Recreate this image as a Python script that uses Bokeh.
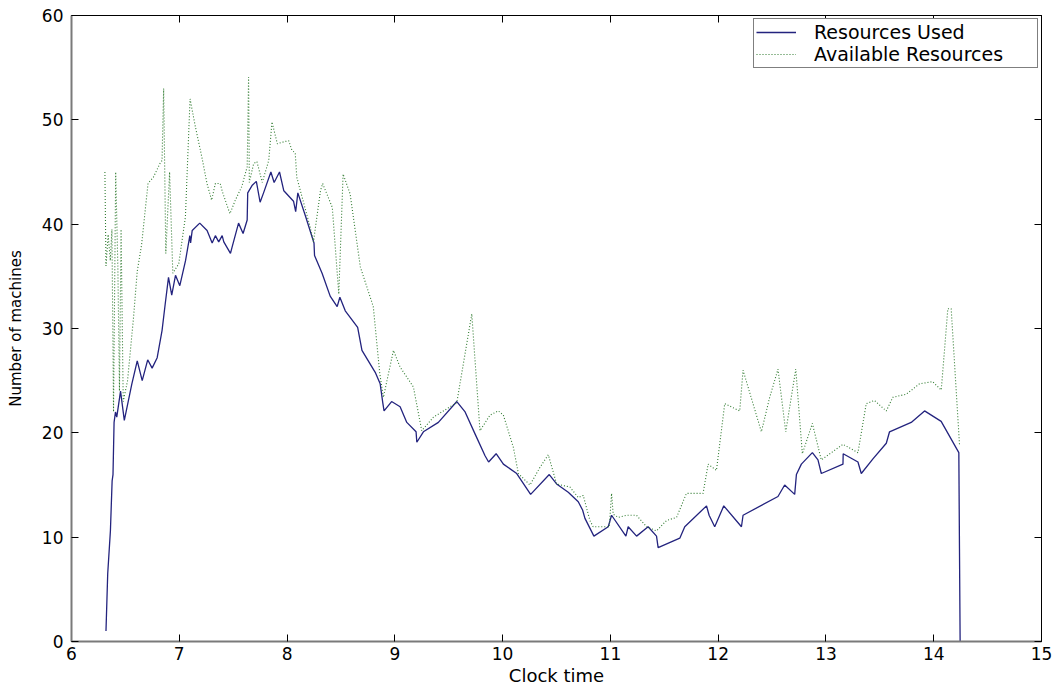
from bokeh.plotting import figure
from bokeh.models import LinearAxis, Range1d, FixedTicker, Legend, LegendItem, CustomJSTickFormatter
from bokeh.embed import file_html
from bokeh.resources import INLINE

# ---- data ----
used_time = [6.320, 6.336, 6.361, 6.377, 6.385, 6.395, 6.408, 6.42, 6.455, 6.49,
             6.56, 6.61, 6.656, 6.707, 6.748, 6.795, 6.84, 6.87, 6.90, 6.93,
             6.965, 7.005, 7.058, 7.098, 7.105, 7.12, 7.19, 7.258, 7.305, 7.335,
             7.366, 7.398, 7.413, 7.475, 7.49, 7.55, 7.592, 7.63, 7.635, 7.675,
             7.715, 7.75, 7.782, 7.85, 7.88, 7.93, 7.97, 8.06, 8.08, 8.10,
             8.17, 8.25, 8.255, 8.325, 8.40, 8.465, 8.49, 8.54, 8.655, 8.695,
             8.818, 8.864, 8.888, 8.90, 8.97, 9.049, 9.111, 9.197, 9.204, 9.265,
             9.404, 9.575, 9.652, 9.744, 9.837, 9.87, 9.94, 10.007, 10.131, 10.26,
             10.433, 10.501, 10.609, 10.702, 10.742, 10.764, 10.847, 10.98, 11.011, 11.144,
             11.165, 11.243, 11.35, 11.428, 11.443, 11.644, 11.69, 11.892, 11.916, 11.968,
             12.052, 12.216, 12.231, 12.555, 12.617, 12.71, 12.726, 12.772, 12.874, 12.926,
             12.957, 13.158, 13.16, 13.297, 13.328, 13.436, 13.56, 13.59, 13.791, 13.915,
             14.069, 14.233, 14.239, 14.245]
used = [1.0, 6.5, 10.6, 15.4, 16.0, 21.0, 22.0, 21.5, 24.0, 21.2,
        24.7, 26.9, 25.0, 27.0, 26.2, 27.2, 29.8, 32.4, 34.9, 33.2,
        35.1, 34.1, 36.5, 38.9, 38.2, 39.4, 40.1, 39.4, 38.2, 38.9,
        38.3, 38.9, 38.3, 37.2, 37.8, 40.1, 39.1, 40.4, 43.0, 43.7,
        44.1, 42.1, 43.0, 45.0, 44.0, 45.0, 43.2, 42.2, 41.2, 43.0,
        40.8, 38.2, 37.0, 35.3, 33.1, 32.1, 33.0, 31.7, 30.1, 27.9,
        25.8, 24.7, 22.9, 22.1, 23.0, 22.5, 21.0, 20.1, 19.1, 20.1,
        21.0, 23.0, 22.0, 19.9, 17.8, 17.2, 18.0, 17.0, 16.1, 14.1,
        16.0, 15.1, 14.3, 13.4, 12.6, 11.8, 10.1, 11.0, 12.1, 10.1,
        11.0, 10.1, 11.0, 10.1, 9.0, 9.9, 11.0, 13.0, 12.1, 11.0,
        13.0, 11.0, 12.1, 13.9, 15.0, 14.1, 16.0, 17.0, 18.1, 17.4,
        16.1, 17.0, 18.0, 17.2, 16.1, 17.5, 19.0, 20.1, 21.0, 22.1,
        21.1, 18.1, 8.9, 0.0]

avail_time = [6.31, 6.32, 6.34, 6.36, 6.375, 6.39, 6.41, 6.43, 6.445, 6.46,
              6.48, 6.52, 6.575, 6.61, 6.65, 6.71, 6.76, 6.82, 6.84, 6.855,
              6.875, 6.91, 6.94, 6.995, 7.057, 7.10, 7.15, 7.21, 7.257, 7.30,
              7.335, 7.38, 7.40, 7.47, 7.52, 7.58, 7.63, 7.643, 7.65, 7.69,
              7.72, 7.77, 7.83, 7.86, 7.91, 7.97, 8.015, 8.045, 8.076, 8.09,
              8.215, 8.245, 8.31, 8.33, 8.42, 8.48, 8.52, 8.585, 8.68, 8.80,
              8.86, 8.894, 8.987, 9.049, 9.172, 9.25, 9.358, 9.575, 9.714, 9.79,
              9.883, 9.96, 10.007, 10.10, 10.146, 10.254, 10.347, 10.424, 10.501, 10.625,
              10.702, 10.748, 10.81, 10.84, 10.99, 11.011, 11.026, 11.072, 11.15, 11.243,
              11.336, 11.428, 11.521, 11.614, 11.706, 11.86, 11.907, 11.984, 12.061, 12.20,
              12.231, 12.401, 12.478, 12.555, 12.627, 12.72, 12.781, 12.874, 12.957, 13.158,
              13.297, 13.374, 13.45, 13.56, 13.62, 13.745, 13.868, 13.99, 14.07, 14.131,
              14.162, 14.239]
avail = [45.0, 36.0, 39.0, 36.5, 39.5, 22.0, 45.0, 36.0, 24.0, 39.5,
         23.0, 25.0, 31.0, 35.5, 38.0, 43.9, 44.5, 45.8, 46.1, 53.0,
         37.2, 45.0, 35.3, 36.2, 40.7, 52.0, 49.3, 46.4, 43.9, 42.3,
         43.9, 43.9, 43.1, 41.0, 42.3, 43.6, 45.5, 54.1, 44.0, 45.8,
         46.0, 44.0, 46.1, 49.8, 47.7, 47.9, 48.0, 47.1, 46.8, 44.5,
         39.7, 38.3, 43.2, 43.9, 41.6, 33.3, 44.8, 42.9, 35.9, 32.1,
         25.7, 23.4, 27.9, 26.3, 24.4, 20.2, 21.5, 22.9, 31.4, 20.2,
         21.7, 22.1, 21.7, 18.6, 16.1, 15.0, 16.7, 17.9, 15.1, 14.8,
         13.8, 14.0, 11.6, 11.0, 11.0, 14.2, 12.2, 11.9, 12.1, 12.1,
         11.0, 10.6, 11.6, 11.9, 14.2, 14.2, 17.0, 16.4, 22.8, 22.1,
         26.0, 20.1, 23.4, 26.1, 20.1, 26.1, 18.0, 20.9, 17.4, 18.9,
         18.1, 22.8, 23.1, 22.1, 23.4, 23.7, 24.7, 24.9, 24.1, 31.9,
         31.9, 18.9]

x_ticks = [6, 7, 8, 9, 10, 11, 12, 13, 14, 15]
y_ticks = [0, 10, 20, 30, 40, 50, 60]
series_names = ["Resources Used", "Available Resources"]

FONT = "DejaVu Sans"

p = figure(width=1052, height=690, x_range=Range1d(6, 15), y_range=Range1d(0, 60),
           output_backend="svg", toolbar_location=None,
           min_border_left=71, min_border_right=11, min_border_top=15, min_border_bottom=49)
p.background_fill_color = "white"
p.border_fill_color = "white"
p.grid.visible = False
p.outline_line_color = "black"
p.outline_line_width = 1

# bottom / left axes
for ax in (p.xaxis[0], p.yaxis[0]):
    ax.axis_line_color = "#7a7a7a"
    ax.axis_line_width = 2
    ax.major_tick_in = 7
    ax.major_tick_out = 0
    ax.minor_tick_in = 0
    ax.minor_tick_out = 0
    ax.major_tick_line_color = "black"
    ax.major_label_text_font = FONT
    ax.major_label_text_font_size = "17px"
    ax.major_label_text_color = "black"
    ax.axis_label_text_font = FONT
    ax.axis_label_text_font_style = "normal"
    ax.axis_label_text_color = "black"

p.xaxis[0].ticker = FixedTicker(ticks=x_ticks)
p.yaxis[0].ticker = FixedTicker(ticks=y_ticks)
p.xaxis[0].axis_label = "Clock time"
p.yaxis[0].axis_label = "Number of machines"
p.xaxis[0].axis_label_text_font_size = "18px"
p.yaxis[0].axis_label_text_font_size = "15px"
p.xaxis[0].major_label_standoff = 5
p.xaxis[0].axis_label_standoff = 2
p.yaxis[0].major_label_standoff = 8
p.yaxis[0].axis_label_standoff = 14

# top / right tick-only axes (box)
blank = CustomJSTickFormatter(code="return ''")
top = LinearAxis(ticker=FixedTicker(ticks=x_ticks), formatter=blank,
                 major_label_text_font_size="1px",
                 major_tick_in=7, major_tick_out=0, minor_tick_in=0, minor_tick_out=0,
                 major_label_standoff=0, axis_line_color="black")
right = LinearAxis(ticker=FixedTicker(ticks=y_ticks), formatter=blank,
                   major_label_text_font_size="1px",
                   major_tick_in=7, major_tick_out=0, minor_tick_in=0, minor_tick_out=0,
                   major_label_standoff=0, axis_line_color="black")
p.add_layout(top, "above")
p.add_layout(right, "right")

r_used = p.line(used_time, used, line_color="#23237e", line_width=1.3)
r_avail = p.line(avail_time, avail, line_color="#2f7a2f", line_width=1.1, line_dash="1 2")

legend = Legend(items=[LegendItem(label=series_names[0], renderers=[r_used]),
                       LegendItem(label=series_names[1], renderers=[r_avail])],
                location=(682, 573))
legend.label_text_font = FONT
legend.label_text_font_size = "19px"
legend.label_text_color = "black"
legend.label_height = 18
legend.glyph_height = 18
legend.glyph_width = 40
legend.label_standoff = 18
legend.label_width = 221
legend.spacing = 0
legend.padding = 2
legend.margin = 0
legend.border_line_color = "black"
legend.border_line_width = 1
legend.background_fill_alpha = 1.0
p.add_layout(legend)

open("out.html", "w").write(file_html(p, INLINE))
